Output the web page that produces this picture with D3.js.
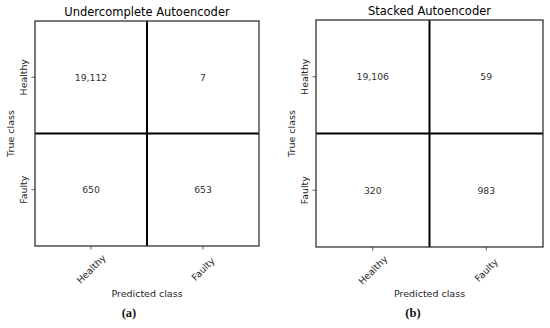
<!DOCTYPE html>
<html><head><meta charset="utf-8">
<script src="https://cdn.jsdelivr.net/npm/d3@7"></script>
<style>body{margin:0;background:#fff}svg{display:block}</style>
</head><body>
<svg id="c" width="550" height="328"></svg>
<script>
const classes = ["Healthy", "Faulty"];
const titles = ["Undercomplete Autoencoder", "Stacked Autoencoder"];
const captions = ["(a)", "(b)"];
const valuesA = [[19112, 7], [650, 653]];
const valuesB = [[19106, 59], [320, 983]];
const matrices = [valuesA, valuesB];

const svg = d3.select("#c");
const font = "DejaVu Sans, sans-serif";
const txt = "#262626";
const panels = [
  {x0: 35, x1: 259, y0: 21, y1: 246, ylabX: 10, capX: 129, titleY: 16},
  {x0: 316, x1: 543, y0: 20, y1: 247, ylabX: 291, capX: 413, titleY: 15}
];

panels.forEach((p, i) => {
  const g = svg.append("g");
  const x = d3.scaleBand().domain(classes).range([p.x0, p.x1]);
  const y = d3.scaleBand().domain(classes).range([p.y0, p.y1]);
  const cells = [];
  classes.forEach((t, r) => classes.forEach((pc, c) => cells.push({t, pc, v: matrices[i][r][c]})));
  g.selectAll("rect.cell").data(cells).join("rect").attr("class", "cell")
    .attr("x", d => x(d.pc)).attr("y", d => y(d.t))
    .attr("width", x.bandwidth()).attr("height", y.bandwidth())
    .attr("fill", "#fff");
  g.selectAll("text.val").data(cells).join("text").attr("class", "val")
    .attr("x", d => x(d.pc) + x.bandwidth() / 2).attr("y", d => y(d.t) + y.bandwidth() / 2)
    .attr("dy", "0.35em").attr("text-anchor", "middle")
    .attr("font-family", font).attr("font-size", 9.3).attr("fill", "#333")
    .text(d => d3.format(",")(d.v));
  // inner grid lines
  g.append("line").attr("x1", x("Faulty")).attr("x2", x("Faulty")).attr("y1", p.y0).attr("y2", p.y1)
    .attr("stroke", "#000").attr("stroke-width", 2);
  g.append("line").attr("x1", p.x0).attr("x2", p.x1).attr("y1", y("Faulty")).attr("y2", y("Faulty"))
    .attr("stroke", "#000").attr("stroke-width", 2);
  // frame
  g.append("rect").attr("x", p.x0).attr("y", p.y0).attr("width", p.x1 - p.x0).attr("height", p.y1 - p.y0)
    .attr("fill", "none").attr("stroke", "#333").attr("stroke-width", 1.3);
  // axes
  const xa = g.append("g").attr("transform", `translate(0,${p.y1})`)
    .call(d3.axisBottom(x).tickSize(3.5).tickPadding(2));
  const ya = g.append("g").attr("transform", `translate(${p.x0},0)`)
    .call(d3.axisLeft(y).tickSize(3.5).tickPadding(2));
  [xa, ya].forEach(a => { a.select(".domain").remove(); a.selectAll("line").attr("stroke", "#333").attr("stroke-width", 0.8); });
  xa.selectAll("text").attr("font-family", font).attr("font-size", 9.4).attr("fill", txt)
    .attr("text-anchor", "middle").attr("dy", null).attr("y", null)
    .attr("transform", "translate(0,23) rotate(-45)").attr("dominant-baseline", "central");
  ya.selectAll("text").attr("font-family", font).attr("font-size", 9.4).attr("fill", txt)
    .attr("text-anchor", "middle").attr("dy", null).attr("x", null)
    .attr("transform", "translate(-12,0) rotate(-90)").attr("dominant-baseline", "central");
  // labels
  g.append("text").attr("x", (p.x0 + p.x1) / 2).attr("y", p.titleY).attr("text-anchor", "middle")
    .attr("font-family", font).attr("font-size", 11.5).attr("fill", "#000").text(titles[i]);
  g.append("text").attr("x", (p.x0 + p.x1) / 2).attr("y", 297).attr("text-anchor", "middle")
    .attr("font-family", font).attr("font-size", 9.5).attr("fill", txt).text("Predicted class");
  g.append("text").attr("transform", `translate(${p.ylabX},${(p.y0 + p.y1) / 2}) rotate(-90)`)
    .attr("text-anchor", "middle").attr("dominant-baseline", "central")
    .attr("font-family", font).attr("font-size", 9.5).attr("fill", txt).text("True class");
  g.append("text").attr("x", p.capX).attr("y", 317).attr("text-anchor", "middle")
    .attr("font-family", "Liberation Serif, serif").attr("font-weight", "bold")
    .attr("font-size", 12.5).attr("fill", "#111").text(captions[i]);
});
</script>
</body></html>
